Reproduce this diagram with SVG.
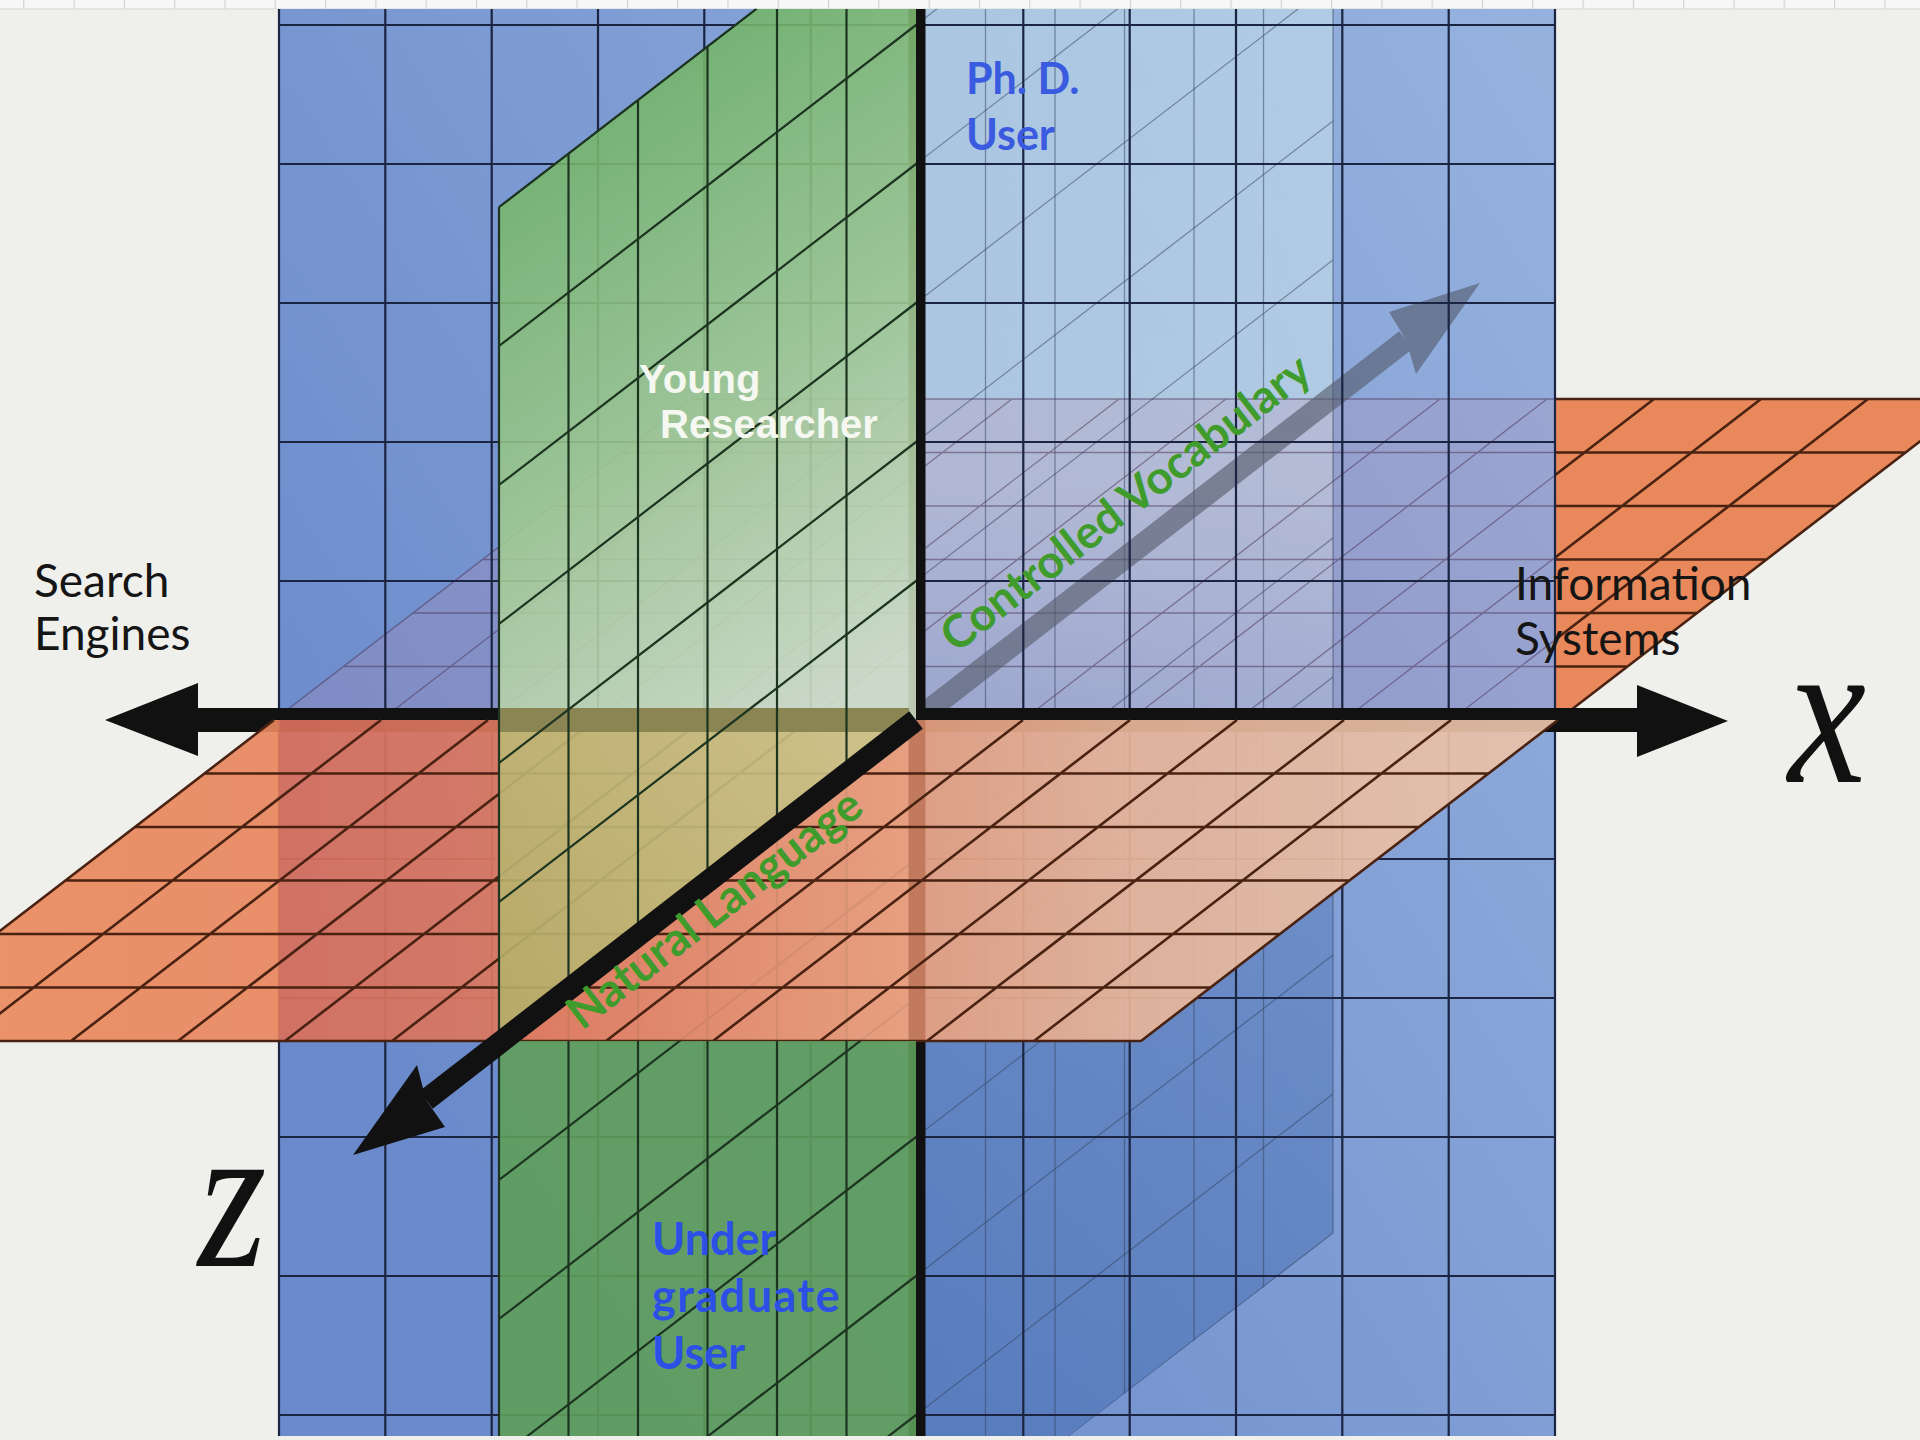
<svg xmlns="http://www.w3.org/2000/svg" width="1920" height="1440" viewBox="0 0 1920 1440">
<defs>
<style>
.gb{fill:none;stroke:#1b2440;stroke-width:2.2}
.go{fill:none;stroke:#4a2212;stroke-width:2.6}
.gg{fill:none;stroke:#1d3520;stroke-width:2.2}
.gf{fill:none;stroke:#34425e;stroke-width:1.3;stroke-opacity:.5}
.txt{font-family:Lato,"Liberation Sans",sans-serif;fill:#151515;font-size:46px}
.blu{font-family:Lato,"Liberation Sans",sans-serif;font-weight:bold;font-size:43px}
.grn{font-family:Lato,"Liberation Sans",sans-serif;font-weight:bold;font-size:46px;fill:#3f9c2c}
.wht{font-family:"Liberation Sans",Arial,sans-serif;font-weight:bold;font-size:40px;fill:#f5f8f0}
.ax{font-family:"Liberation Serif","Times New Roman",serif;font-style:italic;font-size:200px;fill:#111}
</style>
<pattern id="ticks" x="73.5" y="0" width="50.3" height="9" patternUnits="userSpaceOnUse"><rect width="1.2" height="9" fill="#d2d2d2"/></pattern>
<linearGradient id="gBlue" gradientUnits="userSpaceOnUse" x1="279" y1="900" x2="1555" y2="100"><stop offset="0" stop-color="#6a8acb"/><stop offset="1" stop-color="#95b1de"/></linearGradient>
<linearGradient id="gYz" gradientUnits="userSpaceOnUse" x1="0" y1="9" x2="0" y2="1436"><stop offset="0" stop-color="#dcf4ee" stop-opacity=".42"/><stop offset=".33" stop-color="#e2f6f0" stop-opacity=".45"/><stop offset=".499" stop-color="#e2f6f0" stop-opacity=".22"/><stop offset=".5" stop-color="#1d4a94" stop-opacity=".2"/><stop offset="1" stop-color="#1d4a94" stop-opacity=".3"/></linearGradient>
<linearGradient id="gOr" gradientUnits="userSpaceOnUse" x1="0" y1="0" x2="1560" y2="0"><stop offset="0" stop-color="#ea8a5e"/><stop offset=".178" stop-color="#e8865e"/><stop offset=".18" stop-color="#d96f5c"/><stop offset=".32" stop-color="#dc7860"/><stop offset=".587" stop-color="#e7a080"/><stop offset=".73" stop-color="#e8b69a"/><stop offset="1" stop-color="#e9c3ab"/></linearGradient>
<linearGradient id="gGr" gradientUnits="userSpaceOnUse" x1="560" y1="120" x2="900" y2="660"><stop offset="0" stop-color="#72b466"/><stop offset=".5" stop-color="#a0ca90"/><stop offset="1" stop-color="#d4e2c8"/></linearGradient>
<linearGradient id="gOl" gradientUnits="userSpaceOnUse" x1="900" y1="720" x2="520" y2="1020"><stop offset="0" stop-color="#cdc68c"/><stop offset="1" stop-color="#b5af68"/></linearGradient>
<clipPath id="cBlue"><rect x="279" y="9" width="1276" height="1427"/></clipPath>
<clipPath id="cOut"><rect x="1556" y="0" width="400" height="1440"/></clipPath>
<clipPath id="cYzB"><polygon points="916,9 1335,9 1335,1233 1069,1436 916,1436"/></clipPath>
<clipPath id="cGreen"><polygon points="499,207 756,9 916,9 916,1436 499,1436"/></clipPath>
<clipPath id="cTriC"><polygon points="916,720 926,720 926,1041 499,1041"/></clipPath>
<polygon id="oBack" points="691,399 1975,399 1558,720 274,720"/>
<path id="oBackLines" d="M691 399H1975M621.5 452.5H1905.5M552 506H1836M482.5 559.5H1766.5M413 613H1697M343.5 666.5H1627.5M691 399L274 720M798 399L381 720M905 399L488 720M1012 399L595 720M1119 399L702 720M1226 399L809 720M1440 399L1023 720M1547 399L1130 720M1654 399L1237 720M1761 399L1344 720M1868 399L1451 720M1975 399L1558 720"/>
<polygon id="oFrontFill" points="274,720 1558,720 1141,1041 -143,1041" fill="url(#gOr)" fill-opacity=".92"/>
<rect id="yStripe" x="908.5" y="720" width="17" height="321" fill="#c27a5e"/>
<path id="oFrontLines" class="go" d="M204.5 773.5H1488.5M135 827H1419M65.5 880.5H1349.5M-4 934H1280M-73.5 987.5H1210.5M-143 1041H1141M274 720L-143 1041M381 720L-36 1041M488 720L71 1041M595 720L178 1041M702 720L285 1041M809 720L392 1041M1023 720L606 1041M1130 720L713 1041M1237 720L820 1041M1344 720L927 1041M1451 720L1034 1041M1558 720L1141 1041"/>
<path id="yzD" d="M499 207L1333 -435M499 346L1333 -296M499 485L1333 -157M499 624L1333 -18M499 763L1333 121M499 902L1333 260M499 1180L1333 538M499 1319L1333 677M499 1458L1333 816M499 1597L1333 955M499 1736L1333 1094M499 1875L1333 1233"/>
</defs>

<rect width="1920" height="1440" fill="#efefec"/>
<g id="top-strip"><rect width="1920" height="9" fill="#f7f7f7"/><rect width="1920" height="9" fill="url(#ticks)"/><path d="M0 9H1920" stroke="#d6d6d6" stroke-width="1"/></g>

<g id="plane-orange-back-outside" clip-path="url(#cOut)">
<use href="#oBack" fill="#e9885a"/>
<use href="#oBackLines" class="go"/>
</g>

<g id="plane-blue">
<rect x="279" y="9" width="1276" height="1427" fill="url(#gBlue)"/>
</g>

<g id="plane-yz-back">
<polygon points="916,9 1333,9 1333,1233 1069,1436 916,1436" fill="url(#gYz)"/>
</g>

<g id="plane-orange-back-inside" clip-path="url(#cBlue)">
<use href="#oBack" fill="#c08aa8" fill-opacity=".22"/>
<use href="#oBackLines" class="gf" style="stroke:#4a3050"/>
</g>

<g id="yz-back-lines" clip-path="url(#cYzB)">
<use href="#yzD" class="gf"/>
<path class="gf" d="M985.5 0V1440M1055 0V1440M1124.5 0V1440M1194 0V1440M1263.5 0V1440M1333 0V1233"/>
</g>

<g id="arrow-controlled-vocabulary" opacity=".62">
<path d="M916 720L1406 340" stroke="#555c6c" stroke-width="22" fill="none"/>
<polygon points="1480,283 1389,312 1406,340 1416,374" fill="#555c6c"/>
</g>

<g id="blue-grid">
<path class="gb" d="M279 9V1436M385.3 9V1436M491.7 9V1436M598 9V1436M704.3 9V1436M810.7 9V1436M1023.3 9V1436M1129.7 9V1436M1236 9V1436M1342.3 9V1436M1448.7 9V1436M1555 9V1436M279 25H1555M279 164H1555M279 303H1555M279 442H1555M279 581H1555M279 859H1555M279 998H1555M279 1137H1555M279 1276H1555M279 1415H1555"/>
</g>

<g id="axes">
<rect id="axis-y" x="908.5" y="9" width="17" height="1427" fill="#111"/>
<path id="axis-x" d="M105 720L198 683L198 708L1637 708L1637 685L1728 721L1637 757L1637 732L198 732L198 756Z" fill="#111"/>
</g>

<g id="plane-orange-front">
<use href="#oFrontFill"/>
<use href="#yStripe"/>
<use href="#oFrontLines"/>
</g>

<g id="plane-green-front">
<polygon points="499,207 756,9 916,9 916,720 499,720" fill="url(#gGr)" fill-opacity=".88"/>
<polygon points="499,720 916,720 499,1041" fill="url(#gOl)" fill-opacity=".9"/>
<rect x="499" y="1041" width="417" height="395" fill="#5f9f5a" fill-opacity=".9"/>
<rect x="499" y="708" width="410" height="24" fill="#8a8552"/>
<g clip-path="url(#cGreen)">
<use href="#yzD" class="gg"/>
<path class="gg" d="M568.5 0V1440M638 0V1440M707.5 0V1440M777 0V1440M846.5 0V1440"/>
</g>
<path class="gg" d="M499 207V1436M499 207L756 9"/>
</g>

<g id="orange-over-green" clip-path="url(#cTriC)">
<use href="#oFrontFill"/>
<use href="#yStripe"/>
<use href="#oFrontLines"/>
</g>

<g id="axis-z">
<path d="M916 720L426 1100" stroke="#111" stroke-width="22" fill="none"/>
<polygon points="353,1155 417,1065 426,1100 445,1127" fill="#111"/>
</g>

<g id="labels">
<text class="txt" x="34" y="597">Search</text>
<text class="txt" x="34" y="650">Engines</text>
<text class="txt" x="1515" y="600">Information</text>
<text class="txt" x="1515" y="655">Systems</text>
<text class="blu" x="966" y="94" fill="#3a5be0">Ph. D.</text>
<text class="blu" x="966" y="150" fill="#3a5be0">User</text>
<text class="blu" x="652" y="1255" fill="#2c50e6" style="font-size:45px">Under</text>
<text class="blu" x="652" y="1312" fill="#2c50e6" style="font-size:45px;letter-spacing:1.5px">graduate</text>
<text class="blu" x="652" y="1369" fill="#2c50e6" style="font-size:45px">User</text>
<text class="wht" x="639" y="393">Young</text>
<text class="wht" x="660" y="438">Researcher</text>
<text class="grn" transform="translate(956,654) rotate(-37.7)">Controlled Vocabulary</text>
<text class="grn" transform="translate(582,1031) rotate(-37.7)">Natural Language</text>
<text class="ax" transform="translate(1788,782) scale(0.88,1.05)">x</text>
<text class="ax" transform="translate(198,1266) scale(0.88,1.05)">z</text>
</g>
</svg>
